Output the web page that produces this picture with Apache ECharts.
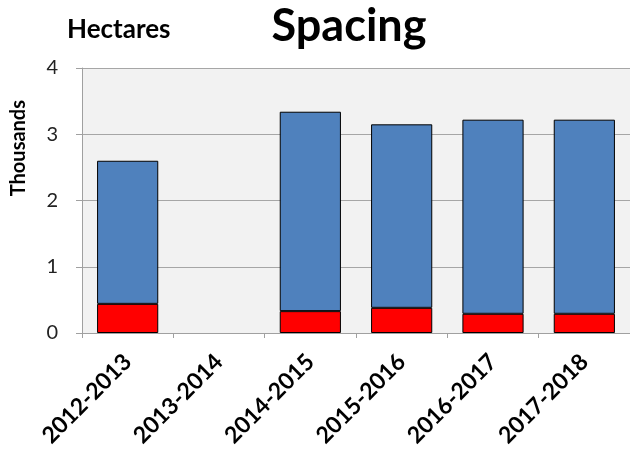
<!DOCTYPE html>
<html>
<head>
<meta charset="utf-8">
<script src="https://cdn.jsdelivr.net/npm/echarts@6/dist/echarts.min.js"></script>
<style>
html, body { margin: 0; padding: 0; background: #fff; }
#chart { width: 630px; height: 454px; }
</style>
</head>
<body>
<div id="chart"></div>
<script>
var myChart = echarts.init(document.getElementById('chart'));

var categories = ['2012-2013', '2013-2014', '2014-2015', '2015-2016', '2016-2017', '2017-2018'];
// bottom (red) and top (blue) parts, in thousands of hectares
var redValues = [0.44, null, 0.33, 0.38, 0.29, 0.29];
var blueValues = [2.16, null, 3.01, 2.77, 2.93, 2.93];
var yTicks = [0, 1, 2, 3, 4];

var font = 'Lato, "Open Sans", sans-serif';

option = {
    animation: false,
    backgroundColor: '#fff',
    title: [{
        text: 'Spacing',
        left: 349,
        top: 4,
        padding: 0,
        textAlign: 'center',
        textStyle: {
            fontFamily: font,
            fontWeight: 'bold',
            fontSize: 45,
            color: '#000'
        }
    }, {
        text: 'Hectares',
        left: 67,
        top: 17,
        padding: 0,
        textStyle: {
            fontFamily: font,
            fontWeight: 'bold',
            fontSize: 26,
            color: '#000'
        }
    }],
    graphic: [{
        type: 'text',
        left: 9,
        top: 100,
        rotation: Math.PI / 2,
        style: {
            text: 'Thousands',
            font: 'bold 20px ' + font,
            fill: '#000'
        }
    }],
    grid: {
        left: 82,
        top: 68,
        right: -3,
        bottom: 121,
        show: true,
        backgroundColor: '#f2f2f2',
        borderWidth: 0
    },
    xAxis: {
        type: 'category',
        data: categories,
        axisLine: { lineStyle: { color: '#a0a0a0', width: 1 } },
        axisTick: { show: true, length: 5, lineStyle: { color: '#a0a0a0' } },
        axisLabel: {
            rotate: 45,
            margin: 25,
            fontFamily: font,
            fontWeight: 'bold',
            fontSize: 23,
            color: '#000'
        }
    },
    yAxis: {
        type: 'value',
        min: yTicks[0],
        max: yTicks[yTicks.length - 1],
        interval: 1,
        axisLine: { show: true, lineStyle: { color: '#a0a0a0', width: 1 } },
        axisTick: { show: true, length: 6, lineStyle: { color: '#a0a0a0' } },
        axisLabel: {
            margin: 24,
            fontFamily: font,
            fontSize: 20,
            color: '#222'
        },
        splitLine: { lineStyle: { color: '#a6a6a6', width: 1 } }
    },
    series: [{
        name: 'red',
        type: 'bar',
        stack: 'total',
        barWidth: '67%',
        data: redValues,
        itemStyle: { color: '#ff0000', borderColor: '#000', borderWidth: 1 }
    }, {
        name: 'blue',
        type: 'bar',
        stack: 'total',
        barWidth: '67%',
        data: blueValues,
        itemStyle: { color: '#4f81bd', borderColor: '#000', borderWidth: 1 }
    }]
};

myChart.setOption(option);
window.onresize = myChart.resize;
</script>
</body>
</html>
